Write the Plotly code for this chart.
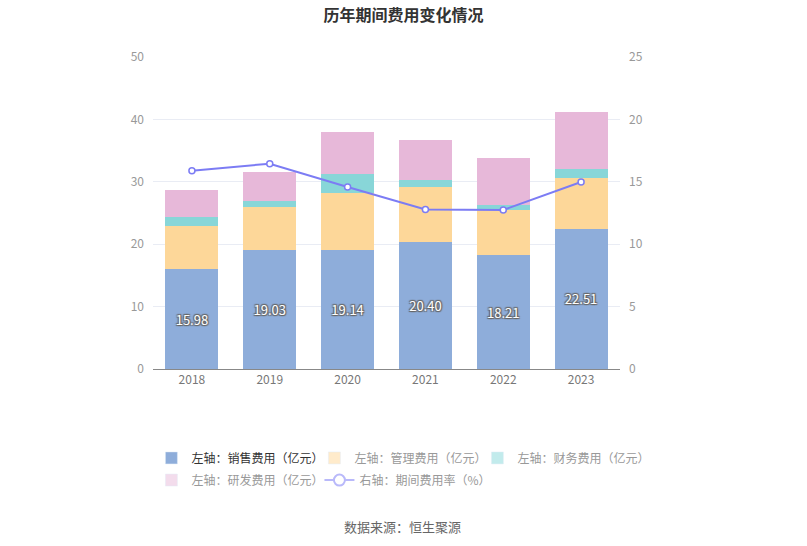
import plotly.graph_objects as go

years = ["2018", "2019", "2020", "2021", "2022", "2023"]
sales = [15.98, 19.03, 19.14, 20.40, 18.21, 22.51]
mgmt = [6.99, 6.93, 9.01, 8.77, 7.32, 8.10]
finance = [1.44, 0.91, 3.15, 1.07, 0.70, 1.49]
rnd = [4.28, 4.65, 6.63, 6.51, 7.53, 9.14]
rate = [15.89, 16.45, 14.58, 12.79, 12.74, 14.98]

names = ["左轴：销售费用（亿元）", "左轴：管理费用（亿元）", "左轴：财务费用（亿元）",
         "左轴：研发费用（亿元）"]
line_name = "右轴：期间费用率（%）"

bar_colors = ["#8EADDA", "#FDD799", "#88D6D8", "#E7B8D9"]
legend_colors = ["#8EADDA", "#FFEBCB", "#C2EBEC", "#F3DCEC"]
line_color = "#7C7CF4"

fig = go.Figure()
series = [sales, mgmt, finance, rnd]
for i, (vals, nm) in enumerate(zip(series, names)):
    fig.add_trace(go.Bar(
        x=years, y=vals, name=nm, showlegend=False,
        marker=dict(color=bar_colors[i], line=dict(width=0)),
        text=[f"{v:.2f}" for v in vals] if i == 0 else None,
        textposition="inside" if i == 0 else "none",
        insidetextanchor="middle", textangle=0, constraintext="none",
        textfont=dict(color="white", size=13, family="Noto Sans CJK SC",
                      shadow="1px 1px 1px #666, -1px -1px 1px #666, 1px -1px 1px #666, -1px 1px 1px #666"),
        hoverinfo="skip",
    ))

fig.add_trace(go.Scatter(
    x=years, y=rate, name=line_name, yaxis="y2", mode="lines+markers",
    line=dict(color=line_color, width=2),
    marker=dict(symbol="circle", size=6, color="white", line=dict(color=line_color, width=1.5)),
    showlegend=False,
))

# legend entries: one legend per entry for exact placement
legend_ids = ["legend", "legend2", "legend3", "legend4", "legend5"]
text_colors = ["#333333", "#999999", "#999999", "#999999"]
for i, nm in enumerate(names):
    fig.add_trace(go.Bar(
        x=[None], y=[None],
        name=f'<span style="color:{text_colors[i]}">{nm}</span>',
        marker=dict(color=legend_colors[i]),
        legend=legend_ids[i],
    ))
fig.add_trace(go.Scatter(
    x=[None], y=[None], mode="lines+markers",
    name=f'<span style="color:#999999">{line_name}</span>',
    line=dict(color="#B9B9FA", width=2),
    marker=dict(symbol="circle", size=11, color="white", line=dict(color="#B9B9FA", width=2)),
    legend=legend_ids[4],
))

leg_common = dict(orientation="h", xref="paper", yref="paper", xanchor="left", yanchor="middle",
                  itemwidth=30, font=dict(size=12, color="#999999"), bgcolor="rgba(0,0,0,0)")
leg_pos = [(-0.0034, -0.285), (0.3456, -0.285), (0.6947, -0.285),
           (-0.0034, -0.356), (0.3564, -0.356)]
legend_layout = {lid: dict(x=px, y=py, **leg_common) for lid, (px, py) in zip(legend_ids, leg_pos)}

fig.update_layout(
    width=807, height=546,
    barmode="stack", bargap=0.32,
    plot_bgcolor="white", paper_bgcolor="white",
    margin=dict(l=153, r=187, t=57, b=177),
    font=dict(family="Noto Sans CJK SC", size=12, color="#999999"),
    title=dict(text="<b>历年期间费用变化情况</b>", x=0.5, xref="container", xanchor="center",
               y=0.971, yanchor="middle",
               font=dict(size=16, color="#333333", family="Noto Sans CJK SC")),
    xaxis=dict(showgrid=False, showline=True, linecolor="#888888", linewidth=1,
               ticks="", tickfont=dict(color="#777777", size=12)),
    yaxis=dict(range=[0, 50], dtick=10, showgrid=True, gridcolor="#E9ECF4",
               zeroline=False, showline=False, ticks="",
               tickfont=dict(color="#999999", size=12), ticklabelstandoff=8),
    yaxis2=dict(range=[0, 25], dtick=5, overlaying="y", side="right",
                showgrid=False, zeroline=False, showline=False, ticks="",
                tickfont=dict(color="#999999", size=12), ticklabelstandoff=8),
    annotations=[dict(text="数据来源：恒生聚源", xref="paper", yref="paper",
                      x=0.535, y=-0.506, xanchor="center", yanchor="middle", showarrow=False,
                      font=dict(size=13, color="#666666"))],
    hovermode=False,
    **legend_layout,
)

fig.write_html("out.html", config={"displayModeBar": False},
               post_script="document.body.style.margin='0px';")
